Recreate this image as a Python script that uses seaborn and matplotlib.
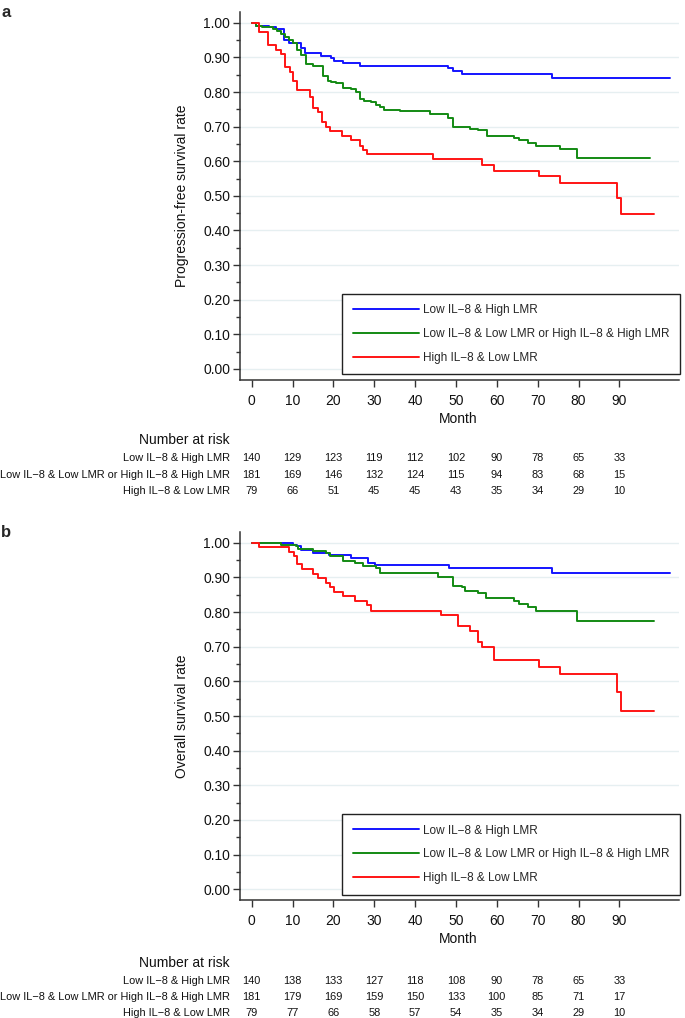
import pandas as pd
import matplotlib.pyplot as plt
import matplotlib.transforms as mtransforms
from matplotlib.lines import Line2D
import seaborn as sns

# group names and colours
groups = ["Low IL\u22128 & High LMR",
          "Low IL\u22128 & Low LMR or High IL\u22128 & High LMR",
          "High IL\u22128 & Low LMR"]
colors = ["#1414ff", "#138a13", "#ff1414"]

# Panel a: progression-free survival (step start times and values)
pfs_blue_t = [0, 1.0, 4.3, 5.9, 7.9, 9.2, 12.0, 13.1, 17.0, 19.4, 20.2, 22.3, 26.4,
              48.1, 49.3, 51.4, 73.5, 102.5]
pfs_blue_s = [1.0, 0.992, 0.987, 0.982, 0.950, 0.941, 0.927, 0.912, 0.905, 0.897, 0.890,
              0.884, 0.876, 0.869, 0.860, 0.852, 0.840, 0.840]
pfs_green_t = [0, 1.0, 2.6, 5.1, 6.3, 7.1, 8.2, 9.2, 10.2, 11.2, 12.0, 13.3, 14.9, 17.4,
               18.6, 19.4, 20.6, 22.3, 24.3, 25.6, 26.4, 27.6, 29.2, 30.5, 31.3, 32.5,
               36.2, 43.6, 48.1, 49.3, 53.4, 55.4, 57.5, 64.3, 65.4, 67.6, 69.5, 75.5,
               79.6, 97.6]
pfs_green_s = [1.0, 0.991, 0.987, 0.982, 0.977, 0.969, 0.960, 0.950, 0.941, 0.921, 0.907,
               0.881, 0.876, 0.847, 0.832, 0.828, 0.825, 0.813, 0.809, 0.799, 0.780,
               0.775, 0.771, 0.763, 0.756, 0.749, 0.745, 0.737, 0.726, 0.700, 0.694,
               0.689, 0.674, 0.667, 0.660, 0.652, 0.644, 0.636, 0.610, 0.610]
pfs_red_t = [0, 1.9, 4.0, 5.9, 7.1, 8.2, 9.4, 10.2, 11.2, 14.3, 15.1, 16.3, 17.2, 18.2,
             19.2, 22.0, 24.3, 26.4, 27.2, 28.3, 44.4, 56.3, 59.4, 70.4, 75.5, 89.4,
             90.5, 98.6]
pfs_red_s = [1.0, 0.974, 0.936, 0.922, 0.909, 0.871, 0.859, 0.832, 0.807, 0.787, 0.754,
             0.742, 0.713, 0.700, 0.687, 0.672, 0.660, 0.645, 0.633, 0.620, 0.606,
             0.590, 0.573, 0.556, 0.538, 0.495, 0.447, 0.447]

# Panel b: overall survival
os_blue_t = [0, 10.0, 11.2, 12.0, 14.9, 19.0, 24.3, 28.4, 30.1, 48.2, 73.5, 102.5]
os_blue_s = [1.0, 0.993, 0.990, 0.979, 0.971, 0.965, 0.955, 0.942, 0.935, 0.926, 0.913,
             0.913]
os_green_t = [0, 7.1, 10.8, 11.4, 12.2, 15.1, 18.2, 19.2, 22.3, 25.4, 27.2, 30.5, 31.3,
              45.5, 49.3, 51.4, 52.3, 55.3, 57.3, 64.3, 65.4, 67.6, 69.5, 79.6, 98.6]
os_green_s = [1.0, 0.995, 0.990, 0.983, 0.981, 0.976, 0.971, 0.961, 0.948, 0.943, 0.934,
              0.926, 0.913, 0.900, 0.876, 0.871, 0.862, 0.856, 0.842, 0.832, 0.822,
              0.814, 0.804, 0.773, 0.773]
os_red_t = [0, 1.9, 9.2, 10.4, 11.2, 12.2, 15.1, 16.3, 18.2, 19.2, 20.2, 22.3, 25.4,
            28.3, 29.2, 46.3, 50.4, 53.4, 55.3, 56.4, 59.4, 70.4, 75.5, 89.4, 90.5, 98.6]
os_red_s = [1.0, 0.987, 0.974, 0.961, 0.939, 0.923, 0.910, 0.898, 0.885, 0.873, 0.859,
            0.845, 0.832, 0.819, 0.804, 0.792, 0.761, 0.746, 0.715, 0.698, 0.663,
            0.641, 0.622, 0.569, 0.514, 0.514]

# number at risk
risk_months = [0, 10, 20, 30, 40, 50, 60, 70, 80, 90]
pfs_risk_blue = [140, 129, 123, 119, 112, 102, 90, 78, 65, 33]
pfs_risk_green = [181, 169, 146, 132, 124, 115, 94, 83, 68, 15]
pfs_risk_red = [79, 66, 51, 45, 45, 43, 35, 34, 29, 10]
os_risk_blue = [140, 138, 133, 127, 118, 108, 90, 78, 65, 33]
os_risk_green = [181, 179, 169, 159, 150, 133, 100, 85, 71, 17]
os_risk_red = [79, 77, 66, 58, 57, 54, 35, 34, 29, 10]

sns.set_theme(style="ticks")
plt.rcParams["font.family"] = ["Liberation Sans", "DejaVu Sans"]

W, H = 685, 1018
fig = plt.figure(figsize=(W / 100, H / 100), dpi=100)


def fy(y):
    return 1 - y / H


def panel(top, bottom, curves, risks, ylabel, letter, risk_y):
    ax = fig.add_axes([240 / W, fy(bottom), 439 / W, (bottom - top) / H])
    frames = []
    for (t, s), g in zip(curves, groups):
        frames.append(pd.DataFrame({"Month": t, "Rate": s, "Group": g}))
    df = pd.concat(frames, ignore_index=True)
    sns.lineplot(data=df, x="Month", y="Rate", hue="Group", hue_order=groups,
                 palette=colors, estimator=None, sort=False, drawstyle="steps-post",
                 linewidth=1.4, legend=False, ax=ax)

    ax.set_xlim(-2.86, 104.6)
    ax.set_ylim(-0.032, 1.032)
    ax.set_xticks(range(0, 100, 10))
    ax.set_yticks([i / 10 for i in range(11)])
    ax.set_yticks([i / 20 for i in range(1, 20, 2)], minor=True)
    ax.set_yticklabels([f"{i / 10:.2f}" for i in range(11)])
    ax.grid(axis="y", which="major", color="#e6eff1", linewidth=1)
    ax.tick_params(axis="both", which="major", length=5, width=1, color="#333333",
                   labelsize=10, labelcolor="#111111")
    ax.tick_params(axis="y", which="major", pad=2)
    ax.tick_params(axis="x", which="major", pad=5)
    ax.tick_params(axis="y", which="minor", length=3, width=1, color="#333333")
    for side in ["top", "right"]:
        ax.spines[side].set_visible(False)
    for side in ["left", "bottom"]:
        ax.spines[side].set_color("#333333")
        ax.spines[side].set_linewidth(1.1)

    ax.set_xlabel("Month", fontsize=10, color="#111111")
    ax.xaxis.label.set_va("center")
    ax.xaxis.set_label_coords(0.497, -(39 / (bottom - top)))
    ax.set_ylabel(ylabel, fontsize=10, color="#111111")
    ax.yaxis.label.set_va("center")
    ax.yaxis.set_label_coords(-58 / 439, 0.5)

    handles = [Line2D([], [], color=c, linewidth=1.4) for c in colors]
    leg = ax.legend(handles, groups, loc="lower left",
                    bbox_to_anchor=(0.233, 0.0155, 0.769, 0.2), mode="expand",
                    borderaxespad=0, fontsize=8.5, handlelength=5.6, handletextpad=0.35,
                    labelspacing=1.0, borderpad=0.88, fancybox=False, framealpha=1,
                    edgecolor="#222222")
    leg.get_frame().set_linewidth(1.0)

    fig.text(0.002, fy(top + 1), letter, fontsize=12, fontweight="bold",
             ha="left", va="center")

    # number at risk table
    trans = mtransforms.blended_transform_factory(ax.transData, fig.transFigure)
    fig.text(230 / W, fy(risk_y[0]), "Number at risk", fontsize=10, ha="right",
             va="center", color="#111111")
    for row, g, y in zip(risks, groups, risk_y[1:]):
        fig.text(230 / W, fy(y), g, fontsize=7.9, ha="right", va="center",
                 color="#111111")
        for m, n in zip(risk_months, row):
            ax.text(m, fy(y), str(n), transform=trans, fontsize=7.9, ha="center",
                    va="center", color="#111111")
    return ax


panel(11.7, 380, [(pfs_blue_t, pfs_blue_s), (pfs_green_t, pfs_green_s),
                  (pfs_red_t, pfs_red_s)],
      [pfs_risk_blue, pfs_risk_green, pfs_risk_red],
      "Progression-free survival rate", "a", [440, 458, 474.5, 491])
panel(531.7, 900.3, [(os_blue_t, os_blue_s), (os_green_t, os_green_s),
                     (os_red_t, os_red_s)],
      [os_risk_blue, os_risk_green, os_risk_red],
      "Overall survival rate", "b", [963, 980.5, 997, 1013])

fig.savefig("out.png", dpi=100)
